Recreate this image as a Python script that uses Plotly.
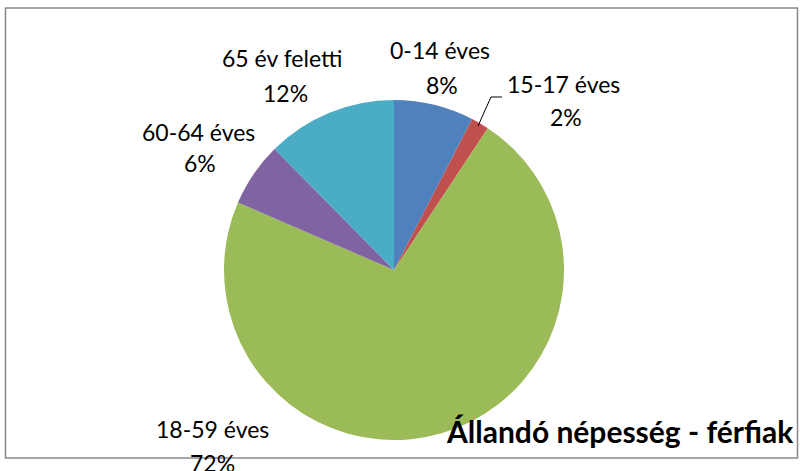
import plotly.graph_objects as go

# ---- data ----
categories = ["0-14 éves", "15-17 éves", "18-59 éves", "60-64 éves", "65 év feletti"]
values = [7.6, 1.7, 72.2, 6.1, 12.4]
colors = ["#4F81BD", "#C0504D", "#9BBB59", "#8064A2", "#4BACC6"]
title_text = "Állandó népesség - férfiak"

# ---- layout helpers (pixels -> paper) ----
W, H = 800, 471
def px(x):
    return x / W
def py(y):
    return 1 - y / H

CX, CY, R = 394, 270, 170

# label centres (pixels): name line, percent line
label_pos = [((440, 50), (442, 85)),
             ((563, 84), (566, 117)),
             ((212, 429), (212, 463)),
             ((198, 132), (200, 163)),
             ((282, 58), (285, 93))]

FONT = "Lato"
total = sum(values)
pcts = [f"{round(v / total * 100)}%" for v in values]

fig = go.Figure(go.Pie(
    labels=categories, values=values, sort=False, direction="clockwise",
    rotation=0, marker=dict(colors=colors, line=dict(width=0)),
    textinfo="none", hoverinfo="label+percent",
    domain=dict(x=[px(CX - R), px(CX + R)], y=[py(CY + R), py(CY - R)]),
    showlegend=False,
))

annotations = []
for cat, pct, (p1, p2) in zip(categories, pcts, label_pos):
    annotations.append(dict(x=px(p1[0]), y=py(p1[1]), xref="paper", yref="paper",
                            text=cat, showarrow=False, xanchor="center", yanchor="middle",
                            font=dict(family=FONT, size=23, color="#000000")))
    annotations.append(dict(x=px(p2[0]), y=py(p2[1]), xref="paper", yref="paper",
                            text=pct, showarrow=False, xanchor="center", yanchor="middle",
                            font=dict(family=FONT, size=23, color="#000000")))
annotations.append(dict(x=px(796), y=py(431), xref="paper", yref="paper",
                        text=f"<b>{title_text}</b>", showarrow=False,
                        xanchor="right", yanchor="middle",
                        font=dict(family=FONT, size=30, color="#000000")))

shapes = [
    dict(type="rect", xref="paper", yref="paper",
         x0=px(5.5), x1=px(797.5), y0=py(458), y1=py(8),
         line=dict(color="#898989", width=1.5), fillcolor="rgba(0,0,0,0)", layer="above"),
    dict(type="path", xref="paper", yref="paper",
         path=f"M {px(478)},{py(126)} L {px(491)},{py(97)} L {px(502)},{py(97)}",
         line=dict(color="#000000", width=1)),
]

fig.update_layout(
    width=W, height=H, margin=dict(l=0, r=0, t=0, b=0),
    paper_bgcolor="white", plot_bgcolor="white",
    annotations=annotations, shapes=shapes,
)

fig.write_html("out.html", config={"displayModeBar": False},
               post_script="document.body.style.margin='0px';document.body.style.overflow='hidden';")
